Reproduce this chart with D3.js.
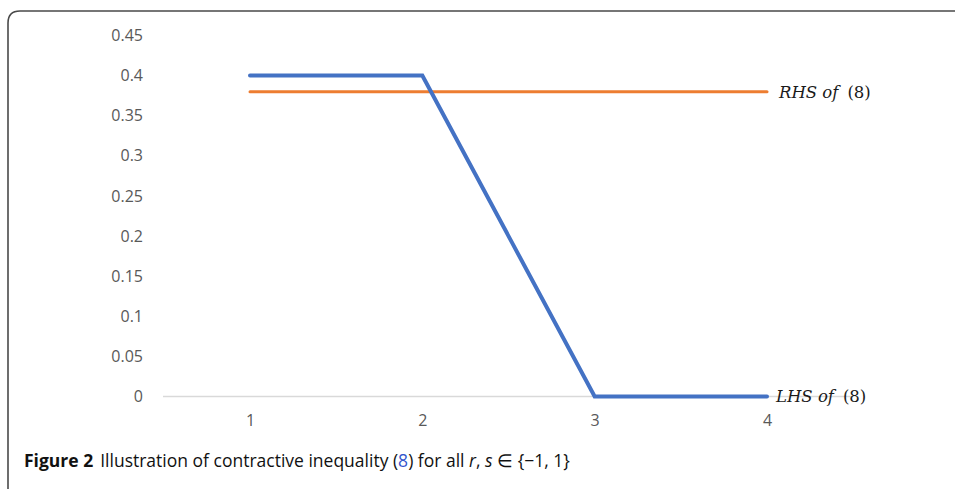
<!DOCTYPE html>
<html><head><meta charset="utf-8">
<script src="https://cdn.jsdelivr.net/npm/d3@7/dist/d3.min.js"></script>
<style>
html,body{margin:0;padding:0;background:#fff;}
svg{display:block;}
</style></head>
<body><svg id="c" width="955" height="489"></svg>
<script>
const categories = [1, 2, 3, 4];
const lhsValues = [0.4, 0.4, 0, 0];
const rhsValues = [0.38, 0.38, 0.38, 0.38];
const yTicks = [0, 0.05, 0.1, 0.15, 0.2, 0.25, 0.3, 0.35, 0.4, 0.45];
const seriesLabels = ["LHS", "RHS"];

const svg = d3.select("#c");

// frame
svg.append("path")
  .attr("d", "M8,1000 L8,23 Q8,11 20,11 L1000,11")
  .attr("fill", "none").attr("stroke", "#4a4a4a").attr("stroke-width", 1.6);

const x = d3.scalePoint().domain(categories).range([250, 767]);
const y = d3.scaleLinear().domain([0, 0.45]).range([396.5, 35.5]);

// x axis line
svg.append("line").attr("x1", 163).attr("x2", 853)
  .attr("y1", y(0)).attr("y2", y(0))
  .attr("stroke", "#d9d9d9").attr("stroke-width", 1.3);

const tickFont = "'Open Sans', sans-serif";
// y tick labels
const yAxis = d3.axisLeft(y).tickValues(yTicks).tickSize(0).tickPadding(0)
  .tickFormat(d => d === 0 ? "0" : String(+d.toFixed(2)));
const ya = svg.append("g").attr("transform", "translate(143,0)").call(yAxis);
ya.select(".domain").remove();
ya.selectAll("text").attr("fill", "#595959")
  .style("font-family", tickFont).style("font-size", "16px");

// x tick labels
const xAxis = d3.axisBottom(x).tickSize(0).tickPadding(0);
const xa = svg.append("g").attr("transform", "translate(0,415)").call(xAxis);
xa.select(".domain").remove();
xa.selectAll("text").attr("fill", "#595959")
  .style("font-family", tickFont).style("font-size", "16px");

const line = d3.line().x((d, i) => x(categories[i])).y(d => y(d));

svg.append("path").datum(rhsValues).attr("d", line)
  .attr("fill", "none").attr("stroke", "#ed7d31").attr("stroke-width", 3)
  .attr("stroke-linecap", "round");
svg.append("path").datum(lhsValues).attr("d", line)
  .attr("fill", "none").attr("stroke", "#4472c4").attr("stroke-width", 4)
  .attr("stroke-linecap", "round").attr("stroke-linejoin", "miter");

// series labels
function seriesLabel(name, val, dx) {
  const t = svg.append("text")
    .attr("x", x(categories[categories.length - 1]) + dx)
    .attr("y", y(val))
    .attr("dy", "0.36em")
    .style("font-family", "'DejaVu Serif', serif")
    .style("font-size", "16.5px").attr("fill", "#1a1a1a");
  t.append("tspan").style("font-style", "italic").text(name + " of");
  t.append("tspan").attr("dx", 9).text("(8)");
}
seriesLabel(seriesLabels[1], rhsValues[rhsValues.length - 1], 12);
seriesLabel(seriesLabels[0], lhsValues[lhsValues.length - 1], 9);

// caption
const cap = svg.append("text").attr("x", 24).attr("y", 467)
  .style("font-family", "'Open Sans', sans-serif").style("font-size", "17.5px")
  .attr("fill", "#111");
cap.append("tspan").style("font-weight", "bold").text("Figure 2");
cap.append("tspan").attr("dx", 7).text("Illustration of contractive inequality (");
cap.append("tspan").attr("fill", "#3355cc").text("8");
cap.append("tspan").text(") for all ");
cap.append("tspan").style("font-style", "italic").text("r");
cap.append("tspan").text(", ");
cap.append("tspan").style("font-style", "italic").text("s");
cap.append("tspan").text(" \u2208 {\u22121, 1}");
</script></body></html>
